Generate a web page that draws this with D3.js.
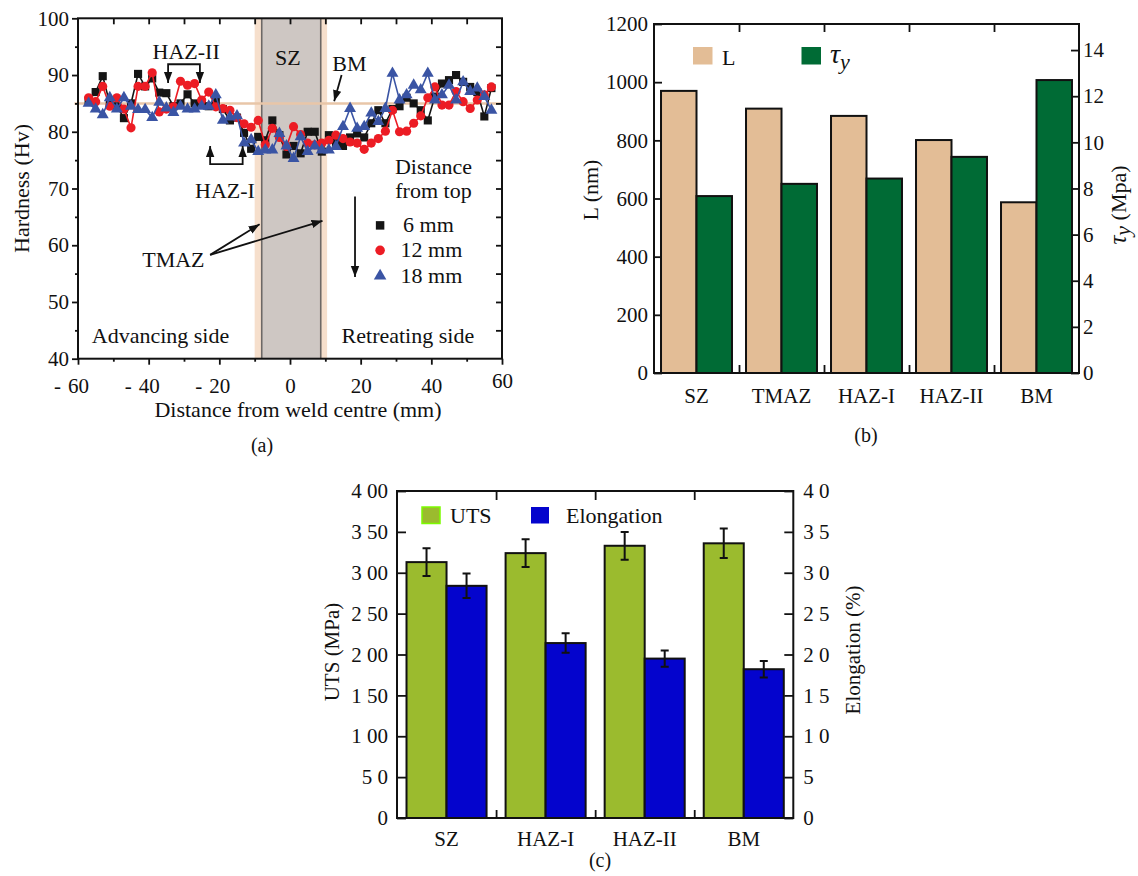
<!DOCTYPE html>
<html>
<head>
<meta charset="utf-8">
<script src="https://cdn.jsdelivr.net/npm/d3@7"></script>
<style>
  body { margin: 0; background: #fff; }
  svg { color: #111; }
  svg text { font-family: "Liberation Serif", "Times New Roman", serif; fill: #111; }
</style>
</head>
<body>
<svg id="fig" width="1138" height="876"></svg>
<script>
// ---- (a) hardness profile data ----
const xPos = [-57,-55,-53,-51,-49,-47,-45,-43,-41,-39,-37,-35,-33,-31,-29,-27,-25,-23,-21,-19,-17,-15,-13,-11,-9,-7,-5,-3,-1,
  1,3,5,7,9,11,13,15,17,19,21,23,25,27,29,31,33,35,37,39,41,43,45,47,49,51,53,55,57];
const hv6 = [85.5,87,89.8,85,84.5,82.4,85,90.2,88,89.4,86.9,86.8,84.5,85,86.6,85,85,84.5,85.3,84,82,82.5,79.8,77,79.1,78.5,82,79.4,76,
  77.5,76.2,80,80,76.5,79.4,78,77.5,79,79.7,79,81.5,83.8,81.5,84,84.5,86,85,83.8,82,86.2,88.5,89.1,90,88.8,87.9,87,82.7,87.7];
const hv12 = [86,85.3,88,84.5,86,84,80.7,88,88,90.4,83.5,84,84.4,88.9,88.2,88.5,85.6,87,84.4,84.1,83.8,82.5,81.4,80.8,82,77.7,80.6,79,77.4,
  80.9,79.5,78,77.7,78,78.5,79.4,78.8,78.2,78,76.9,78,78.8,80.1,83.8,80,80.1,81.5,82.8,86,87.9,84.7,84.7,87.1,85.3,84.1,85.6,86.5,87.9];
const hv18 = [85,84,83,86,84,86,84.5,83.9,83.9,82.5,85.2,84.2,83.4,84.5,84,84,84.5,84.5,86.5,82,82.6,82.8,78,78.6,76.5,76.8,76.8,79.7,77.5,
  75.3,79.1,76.5,77.5,76.8,76.8,77.4,80.9,84.1,80.6,80.9,83.3,81.8,84.1,90.3,85.6,86.5,88.2,87.4,90.3,85.6,86.5,88.2,85.6,88.8,87.1,87.7,86.2,83.8];
const xTicksA = [-60,-40,-20,0,20,40,60];
const xMinorA = [-50,-30,-10,10,30,50];
const xTopA = [-50,-40,-30,-20,-10,0,10,20,30,40,50];
const yTicksA = [40,50,60,70,80,90,100];
const yMinorA = [45,55,65,75,85,95];
const bmHardness = 85;

// ---- (b) L and tau_y ----
const zonesB = ['SZ','TMAZ','HAZ-I','HAZ-II','BM'];
const lengthL = [970,909,884,801,587];
const tauY = [7.67,8.2,8.43,9.37,12.7];
const yTicksBL = [0,200,400,600,800,1000,1200];
const yTicksBR = [0,2,4,6,8,10,12,14];

// ---- (c) UTS and elongation ----
const zonesC = ['SZ','HAZ-I','HAZ-II','BM'];
const uts = [313,324,333,336];
const utsErr = [17,17,17,18];
const elong = [28.4,21.4,19.5,18.2];
const elongErr = [1.5,1.2,1.0,1.0];
const yTicksCL = [0,50,100,150,200,250,300,350,400];
const yTicksCR = [0,5,10,15,20,25,30,35,40];

const FONT = '"Liberation Serif", "Times New Roman", serif';
const svg = d3.select('#fig');
svg.append('rect').attr('width', 1138).attr('height', 876).attr('fill', '#fff');

const defs = svg.append('defs');
defs.append('marker')
    .attr('id', 'arr')
    .attr('viewBox', '0 0 10 10')
    .attr('refX', 10).attr('refY', 5)
    .attr('markerUnits', 'userSpaceOnUse')
    .attr('markerWidth', 11).attr('markerHeight', 11)
    .attr('orient', 'auto-start-reverse')
  .append('path')
    .attr('d', 'M0,1.2L10,5L0,8.8Z')
    .attr('fill', '#111');

function styleAxis(g, size) {
    g.attr('font-family', FONT).attr('font-size', size);
    g.select('.domain').remove();
    g.selectAll('.tick line').attr('stroke-width', 1.8);
}

// =============== (a) ===============
const xA = d3.scaleLinear().domain([-60, 60]).range([78, 502]);
const yA = d3.scaleLinear().domain([40, 100]).range([358.7, 18.3]);
const gA = svg.append('g');

gA.append('rect')
    .attr('x', xA(-10)).attr('y', yA(100))
    .attr('width', xA(10.5) - xA(-10)).attr('height', yA(40) - yA(100))
    .attr('fill', '#f6dfcc');
gA.append('rect')
    .attr('x', xA(-8)).attr('y', yA(100))
    .attr('width', xA(8.7) - xA(-8)).attr('height', yA(40) - yA(100))
    .attr('fill', '#cec7c3');
gA.selectAll('line.szEdge')
    .data([-8, 8.7])
    .join('line')
    .attr('x1', d => xA(d)).attr('x2', d => xA(d))
    .attr('y1', yA(100)).attr('y2', yA(40))
    .attr('stroke', '#6d6866').attr('stroke-width', 1.6);

gA.append('line')
    .attr('x1', xA(-61)).attr('x2', xA(60))
    .attr('y1', yA(bmHardness)).attr('y2', yA(bmHardness))
    .attr('stroke', '#e8c6a8').attr('stroke-width', 2.5);

const seriesA = [
    { key: '6 mm', values: hv6, color: '#151515', symbol: d3.symbolSquare, size: 66 },
    { key: '12 mm', values: hv12, color: '#ec1c24', symbol: d3.symbolCircle, size: 66 },
    { key: '18 mm', values: hv18, color: '#3a54a4', symbol: d3.symbolTriangle, size: 62 }
];

const lineA = d3.line().x(d => xA(d[0])).y(d => yA(d[1]));
seriesA.forEach(s => {
    const pts = xPos.map((x, i) => [x, s.values[i]]);
    gA.append('path')
        .attr('d', lineA(pts))
        .attr('fill', 'none')
        .attr('stroke', s.color)
        .attr('stroke-width', 1.6);
    gA.append('g').selectAll('path')
        .data(pts)
        .join('path')
        .attr('transform', d => `translate(${xA(d[0])},${yA(d[1])})`)
        .attr('d', d3.symbol().type(s.symbol).size(s.size))
        .attr('fill', s.color);
});

// axes (a)
const axAB = gA.append('g').attr('transform', `translate(0,${yA(40)})`)
    .call(d3.axisBottom(xA).tickValues(xTicksA).tickSize(6).tickPadding(13).tickFormat(d => Math.abs(d)));
styleAxis(axAB, 21);
axAB.selectAll('.tick text').each(function (d) {
    if (d < 0) {
        const w = this.getComputedTextLength();
        d3.select(this.parentNode).append('text')
            .attr('x', -w / 2 - 7)
            .attr('y', d3.select(this).attr('y'))
            .attr('dy', '0.71em')
            .attr('text-anchor', 'end')
            .attr('fill', 'currentColor')
            .text('-');
    }
    if (d === 60) d3.select(this).attr('y', +d3.select(this).attr('y') - 5);
});
styleAxis(gA.append('g').attr('transform', `translate(0,${yA(40)})`)
    .call(d3.axisBottom(xA).tickValues(xMinorA).tickSize(3).tickFormat('')), 21);
styleAxis(gA.append('g').attr('transform', `translate(0,${yA(100)})`)
    .call(d3.axisTop(xA).tickValues(xTopA).tickSize(-6).tickFormat('')), 21);
styleAxis(gA.append('g').attr('transform', `translate(${xA(-60)},0)`)
    .call(d3.axisLeft(yA).tickValues(yTicksA).tickSize(6).tickPadding(3)), 21);
styleAxis(gA.append('g').attr('transform', `translate(${xA(-60)},0)`)
    .call(d3.axisLeft(yA).tickValues(yMinorA).tickSize(3).tickFormat('')), 21);
styleAxis(gA.append('g').attr('transform', `translate(${xA(60)},0)`)
    .call(d3.axisRight(yA).tickValues(yMinorA.concat(yTicksA.slice(1, -1))).tickSize(-6).tickFormat('')), 21);

gA.append('rect')
    .attr('x', xA(-60)).attr('y', yA(100))
    .attr('width', xA(60) - xA(-60)).attr('height', yA(40) - yA(100))
    .attr('fill', 'none').attr('stroke', '#111').attr('stroke-width', 2);

// annotations (a)
const arrowPath = (g, d) => g.append('path').attr('d', d)
    .attr('fill', 'none').attr('stroke', '#111').attr('stroke-width', 1.8);

arrowPath(gA, `M${xA(-34.5)},${yA(88.6)}V${yA(91.9)}H${xA(-25.5)}V${yA(88.6)}`)
    .attr('marker-start', 'url(#arr)').attr('marker-end', 'url(#arr)');
arrowPath(gA, `M${xA(-22.6)},${yA(77.5)}V${yA(74.3)}H${xA(-13.4)}V${yA(77.5)}`)
    .attr('marker-start', 'url(#arr)').attr('marker-end', 'url(#arr)');
arrowPath(gA, `M${xA(14.6)},${yA(90)}L${xA(12.5)},${yA(85.4)}`).attr('marker-end', 'url(#arr)');
arrowPath(gA, `M${xA(-22.6)},${yA(58.3)}L${xA(-8.6)},${yA(63.7)}`).attr('marker-end', 'url(#arr)');
arrowPath(gA, `M${xA(-22.6)},${yA(58.3)}L${xA(9.2)},${yA(64.3)}`).attr('marker-end', 'url(#arr)');
arrowPath(gA, `M${xA(18.4)},${yA(68.6)}L${xA(18.4)},${yA(54.4)}`).attr('marker-end', 'url(#arr)');

const notesA = [
    { t: 'SZ', x: -0.6, y: 91.8, a: 'middle' },
    { t: 'BM', x: 16.8, y: 90.7, a: 'middle' },
    { t: 'HAZ-II', x: -29.4, y: 92.9, a: 'middle' },
    { t: 'HAZ-I', x: -18.4, y: 68.3, a: 'middle' },
    { t: 'Distance', x: 40.6, y: 72.6, a: 'middle' },
    { t: 'from top', x: 40.6, y: 68.3, a: 'middle' },
    { t: 'TMAZ', x: -33, y: 56.2, a: 'middle' },
    { t: 'Advancing side', x: -56.1, y: 42.7, a: 'start' },
    { t: 'Retreating side', x: 14.6, y: 42.7, a: 'start' }
];
gA.selectAll('text.note')
    .data(notesA)
    .join('text')
    .attr('x', d => xA(d.x)).attr('y', d => yA(d.y))
    .attr('text-anchor', d => d.a)
    .attr('font-size', 22)
    .text(d => d.t);

const legendYA = [63.5, 59.1, 54.6];
seriesA.forEach((s, i) => {
    gA.append('path')
        .attr('transform', `translate(${xA(25.5)},${yA(legendYA[i])})`)
        .attr('d', d3.symbol().type(s.symbol).size(s.size + 6))
        .attr('fill', s.color);
    gA.append('text')
        .attr('x', xA(i === 0 ? 32 : 31.3)).attr('y', yA(legendYA[i]) + 7)
        .attr('font-size', 22)
        .text(s.key);
});

gA.append('text')
    .attr('transform', `translate(21,${(yA(40) + yA(100)) / 2}) rotate(-90)`)
    .attr('text-anchor', 'middle').attr('dy', '0.35em')
    .attr('font-size', 22)
    .text('Hardness (Hv)');
gA.append('text')
    .attr('x', 298).attr('y', 417)
    .attr('text-anchor', 'middle').attr('font-size', 22)
    .text('Distance from weld centre (mm)');
gA.append('text')
    .attr('x', 262).attr('y', 452)
    .attr('text-anchor', 'middle').attr('font-size', 20)
    .text('(a)');

// =============== (b) ===============
const xB = d3.scaleBand().domain(zonesB).range([654, 1079]).paddingInner(0.165).paddingOuter(0.0825);
const xB1 = d3.scaleBand().domain(['L', 'tau']).range([0, xB.bandwidth()]);
const yBL = d3.scaleLinear().domain([0, 1200]).range([373, 24]);
const yBR = d3.scaleLinear().domain([0, 15.13]).range([373, 24]);
const gB = svg.append('g');
const colL = '#e3bd96', colTau = '#006b35';

const barsB = zonesB.map((z, i) => ({ z, L: lengthL[i], tau: tauY[i] }));
gB.append('g').selectAll('rect')
    .data(barsB)
    .join('rect')
    .attr('x', d => xB(d.z) + xB1('L'))
    .attr('y', d => yBL(d.L))
    .attr('width', xB1.bandwidth())
    .attr('height', d => yBL(0) - yBL(d.L))
    .attr('fill', colL).attr('stroke', '#111').attr('stroke-width', 2);
gB.append('g').selectAll('rect')
    .data(barsB)
    .join('rect')
    .attr('x', d => xB(d.z) + xB1('tau'))
    .attr('y', d => yBR(d.tau))
    .attr('width', xB1.bandwidth())
    .attr('height', d => yBR(0) - yBR(d.tau))
    .attr('fill', colTau).attr('stroke', '#111').attr('stroke-width', 2);

const boundsB = zonesB.slice(1).map(z => xB(z) - xB.step() * xB.paddingInner() / 2);
const xBnd = d3.scaleLinear().domain([654, 1079]).range([654, 1079]);

styleAxis(gB.append('g').attr('transform', `translate(654,0)`)
    .call(d3.axisLeft(yBL).tickValues(yTicksBL).tickSize(-8).tickPadding(6).tickFormat(d3.format('d'))), 21);
styleAxis(gB.append('g').attr('transform', `translate(1079,0)`)
    .call(d3.axisRight(yBR).tickValues(yTicksBR).tickSize(-8).tickPadding(4).tickFormat(d3.format('d'))), 21);
styleAxis(gB.append('g').attr('transform', `translate(0,24)`)
    .call(d3.axisTop(xBnd).tickValues(boundsB).tickSize(-8).tickFormat('')), 21);
styleAxis(gB.append('g').attr('transform', `translate(0,373)`)
    .call(d3.axisBottom(xBnd).tickValues(boundsB).tickSize(-8).tickFormat('')), 21);
styleAxis(gB.append('g').attr('transform', `translate(0,373)`)
    .call(d3.axisBottom(xB).tickSize(0).tickPadding(15)), 21);

gB.append('rect')
    .attr('x', 654).attr('y', 24).attr('width', 1079 - 654).attr('height', 373 - 24)
    .attr('fill', 'none').attr('stroke', '#111').attr('stroke-width', 2);

// legend (b)
gB.append('rect').attr('x', 693).attr('y', 47).attr('width', 19.5).attr('height', 17.5).attr('fill', colL);
gB.append('text').attr('x', 722).attr('y', 65).attr('font-size', 22).text('L');
gB.append('rect').attr('x', 801.5).attr('y', 47).attr('width', 19.5).attr('height', 17.5).attr('fill', colTau);
const tauLeg = gB.append('text').attr('x', 830).attr('y', 63).attr('font-size', 28).attr('font-style', 'italic');
tauLeg.append('tspan').text('τ');
tauLeg.append('tspan').attr('font-size', 22).attr('dy', 6).text('y');

gB.append('text')
    .attr('transform', `translate(590,190) rotate(-90)`)
    .attr('text-anchor', 'middle').attr('dy', '0.35em')
    .attr('font-size', 22)
    .text('L (nm)');
const tauLab = gB.append('text')
    .attr('transform', `translate(1119,205) rotate(-90)`)
    .attr('text-anchor', 'middle').attr('dy', '0.3em')
    .attr('font-size', 22);
tauLab.append('tspan').attr('font-style', 'italic').attr('font-size', 25).text('τ');
tauLab.append('tspan').attr('font-style', 'italic').attr('dy', 4).text('y');
tauLab.append('tspan').attr('dy', -4).text(' (Mpa)');
gB.append('text')
    .attr('x', 866).attr('y', 442)
    .attr('text-anchor', 'middle').attr('font-size', 20)
    .text('(b)');

// =============== (c) ===============
const xC = d3.scaleBand().domain(zonesC).range([397, 793.3]).paddingInner(0.192).paddingOuter(0.096);
const xC1 = d3.scaleBand().domain(['uts', 'el']).range([0, xC.bandwidth()]);
const yCL = d3.scaleLinear().domain([0, 400]).range([818, 491]);
const yCR = d3.scaleLinear().domain([0, 40]).range([818, 491]);
const gC = svg.append('g');
const colUTS = '#9bbb2e', colEl = '#0404cd';

const barsC = zonesC.map((z, i) => ({ z, uts: uts[i], ue: utsErr[i], el: elong[i], ee: elongErr[i] }));
gC.append('g').selectAll('rect')
    .data(barsC)
    .join('rect')
    .attr('x', d => xC(d.z) + xC1('uts'))
    .attr('y', d => yCL(d.uts))
    .attr('width', xC1.bandwidth())
    .attr('height', d => yCL(0) - yCL(d.uts))
    .attr('fill', colUTS).attr('stroke', '#111').attr('stroke-width', 2);
gC.append('g').selectAll('rect')
    .data(barsC)
    .join('rect')
    .attr('x', d => xC(d.z) + xC1('el'))
    .attr('y', d => yCR(d.el))
    .attr('width', xC1.bandwidth())
    .attr('height', d => yCR(0) - yCR(d.el))
    .attr('fill', colEl).attr('stroke', '#111').attr('stroke-width', 2);

const errC = barsC.flatMap(d => [
    { x: xC(d.z) + xC1('uts') + xC1.bandwidth() / 2, lo: yCL(d.uts - d.ue), hi: yCL(d.uts + d.ue) },
    { x: xC(d.z) + xC1('el') + xC1.bandwidth() / 2, lo: yCR(d.el - d.ee), hi: yCR(d.el + d.ee) }
]);
const errG = gC.append('g').attr('stroke', '#111').attr('stroke-width', 2);
errG.selectAll('path')
    .data(errC)
    .join('path')
    .attr('fill', 'none')
    .attr('d', d => `M${d.x},${d.lo}V${d.hi}M${d.x - 4},${d.lo}H${d.x + 4}M${d.x - 4},${d.hi}H${d.x + 4}`);

const boundsC = zonesC.slice(1).map(z => xC(z) - xC.step() * xC.paddingInner() / 2);
const xCnd = d3.scaleLinear().domain([397, 793.3]).range([397, 793.3]);
const spaced = d => { const s = String(d); return s.length > 1 ? s[0] + ' ' + s.slice(1) : s; };

styleAxis(gC.append('g').attr('transform', `translate(397,0)`)
    .call(d3.axisLeft(yCL).tickValues(yTicksCL).tickSize(-9).tickPadding(9).tickFormat(spaced)), 21);
styleAxis(gC.append('g').attr('transform', `translate(793.3,0)`)
    .call(d3.axisRight(yCR).tickValues(yTicksCR).tickSize(-9).tickPadding(10).tickFormat(spaced)), 21);
styleAxis(gC.append('g').attr('transform', `translate(0,491)`)
    .call(d3.axisTop(xCnd).tickValues(boundsC).tickSize(-9).tickFormat('')), 21);
styleAxis(gC.append('g').attr('transform', `translate(0,818)`)
    .call(d3.axisBottom(xCnd).tickValues(boundsC).tickSize(-8).tickFormat('')), 21);
styleAxis(gC.append('g').attr('transform', `translate(0,818)`)
    .call(d3.axisBottom(xC).tickSize(0).tickPadding(13)), 21);

gC.append('rect')
    .attr('x', 397).attr('y', 491).attr('width', 793.3 - 397).attr('height', 818 - 491)
    .attr('fill', 'none').attr('stroke', '#111').attr('stroke-width', 2);

// legend (c)
gC.append('rect').attr('x', 422).attr('y', 507).attr('width', 18).attr('height', 16.5)
    .attr('fill', colUTS).attr('stroke', '#7cfc00').attr('stroke-width', 1.5);
gC.append('text').attr('x', 450).attr('y', 523).attr('font-size', 22).text('UTS');
gC.append('rect').attr('x', 531).attr('y', 507).attr('width', 18).attr('height', 16.5).attr('fill', colEl);
gC.append('text').attr('x', 566).attr('y', 523).attr('font-size', 22).text('Elongation');

gC.append('text')
    .attr('transform', `translate(332,652) rotate(-90)`)
    .attr('text-anchor', 'middle').attr('dy', '0.35em')
    .attr('font-size', 21)
    .text('UTS (MPa)');
gC.append('text')
    .attr('transform', `translate(853,650) rotate(-90)`)
    .attr('text-anchor', 'middle').attr('dy', '0.35em')
    .attr('font-size', 21)
    .text('Elongation (%)');
gC.append('text')
    .attr('x', 600).attr('y', 867)
    .attr('text-anchor', 'middle').attr('font-size', 20)
    .text('(c)');
</script>
</body>
</html>
